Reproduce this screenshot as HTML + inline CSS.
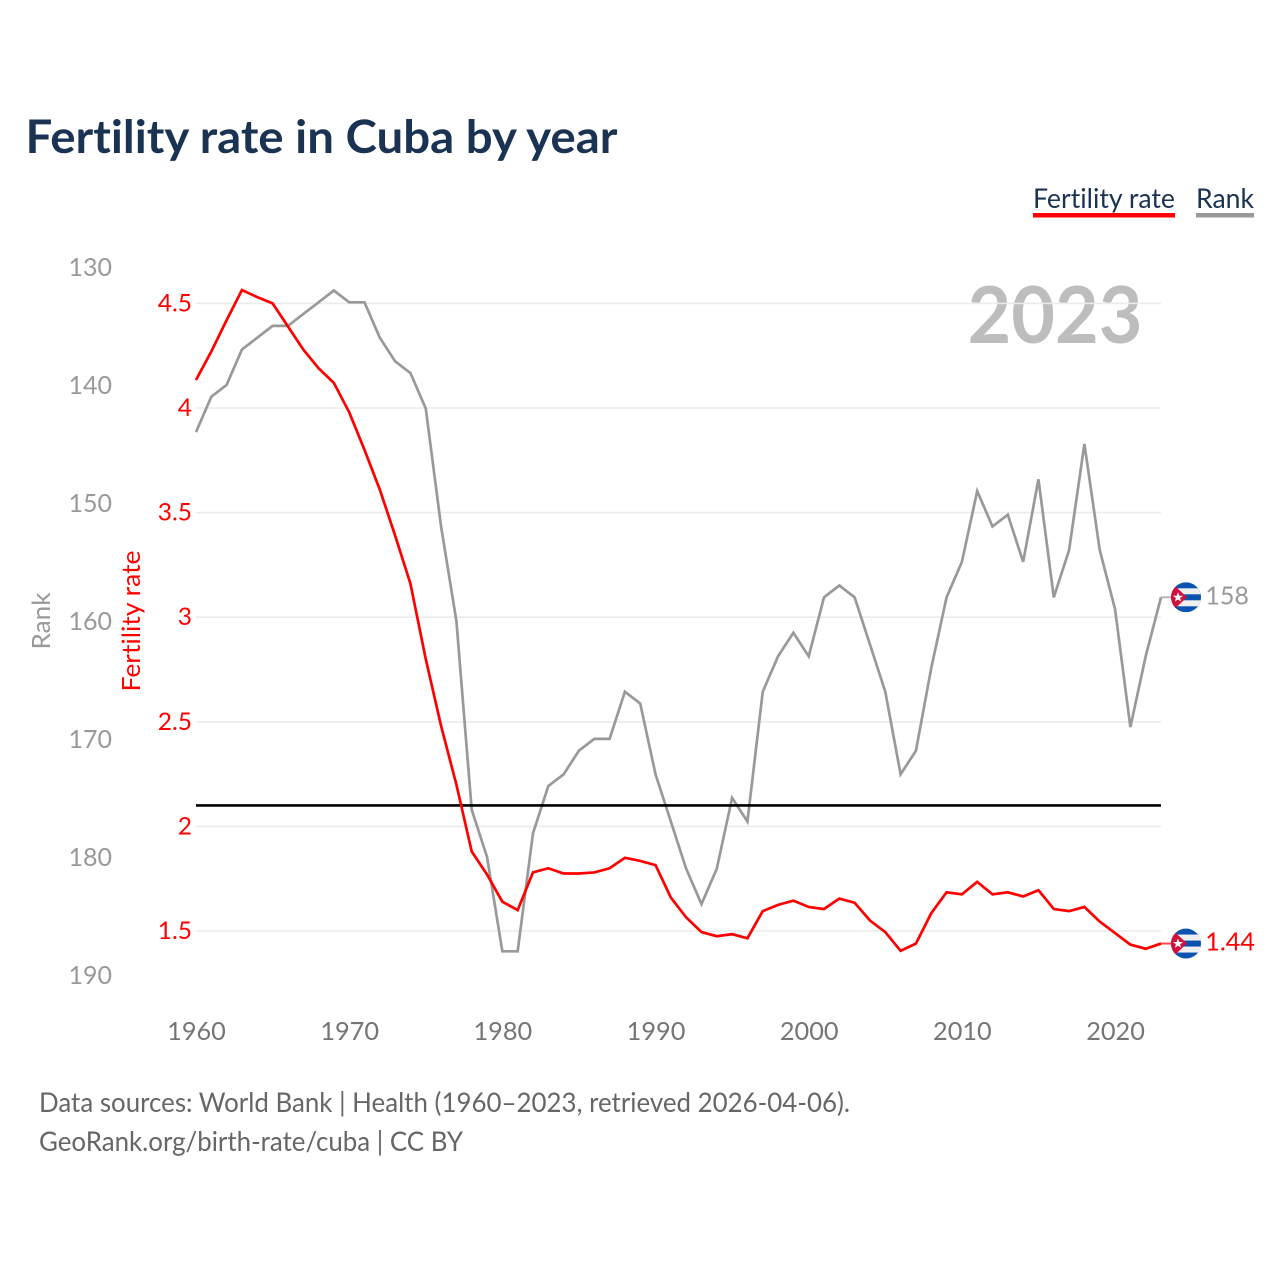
<!DOCTYPE html>
<html lang="en">
<head>
<meta charset="utf-8">
<title>Fertility rate in Cuba by year</title>
<style>
html,body{margin:0;padding:0;background:#fff;}
body{width:1280px;height:1280px;overflow:hidden;}
svg{display:block;}
text{font-family:"Lato","Carlito","Liberation Sans",sans-serif;font-variant-ligatures:none;font-feature-settings:"liga" 0,"clig" 0;}
</style>
</head>
<body>
<svg id="chart" width="1280" height="1280" viewBox="0 0 1280 1280" xmlns="http://www.w3.org/2000/svg">
  <defs>
    <clipPath id="flag-clip"><circle cx="0" cy="0" r="15"></circle></clipPath>
  </defs>
  <rect x="0" y="0" width="1280" height="1280" fill="#ffffff"></rect>
  <text x="25.5" y="153" font-size="46" font-weight="700" fill="#1a3353" textLength="592" lengthAdjust="spacingAndGlyphs">Fertility rate in Cuba by year</text>

  <text x="1033" y="208" font-size="27" fill="#1a3353" textLength="142" lengthAdjust="spacingAndGlyphs">Fertility rate</text>
  <rect x="1033" y="213" width="142" height="4.5" fill="#ff0000"></rect>
  <text x="1196" y="208" font-size="27" fill="#1a3353" textLength="58" lengthAdjust="spacingAndGlyphs">Rank</text>
  <rect x="1196" y="213" width="58" height="4.5" fill="#999999"></rect>

  <text x="1142.5" y="343" text-anchor="end" font-size="79" font-weight="700" fill="#bdbdbd" textLength="175" lengthAdjust="spacingAndGlyphs">2023</text>

  <g id="grid"></g>
  <g id="rank-axis"></g>
  <g id="fert-axis"></g>
  <g id="x-axis"></g>

  <text transform="translate(50,621) rotate(-90)" text-anchor="middle" font-size="25" fill="#999999" textLength="57" lengthAdjust="spacingAndGlyphs">Rank</text>
  <text transform="translate(140,621) rotate(-90)" text-anchor="middle" font-size="25" fill="#ff0000" textLength="141" lengthAdjust="spacingAndGlyphs">Fertility rate</text>

  <g id="series"></g>

  <text x="39" y="1112" font-size="27" fill="#666666" textLength="811" lengthAdjust="spacingAndGlyphs">Data sources: World Bank | Health (1960–2023, retrieved 2026-04-06).</text>
  <text x="39" y="1151" font-size="27" fill="#666666" textLength="424" lengthAdjust="spacingAndGlyphs">GeoRank.org/birth-rate/cuba | CC BY</text>
</svg>
<script>
const years = [1960,1961,1962,1963,1964,1965,1966,1967,1968,1969,1970,1971,1972,1973,1974,1975,1976,1977,1978,1979,1980,1981,1982,1983,1984,1985,1986,1987,1988,1989,1990,1991,1992,1993,1994,1995,1996,1997,1998,1999,2000,2001,2002,2003,2004,2005,2006,2007,2008,2009,2010,2011,2012,2013,2014,2015,2016,2017,2018,2019,2020,2021,2022,2023];
const fertilityValues = [4.134,4.27,4.42,4.564,4.53,4.50,4.39,4.28,4.19,4.12,3.98,3.80,3.61,3.39,3.16,2.80,2.48,2.20,1.88,1.77,1.64,1.60,1.78,1.80,1.775,1.775,1.78,1.80,1.85,1.835,1.815,1.66,1.565,1.495,1.475,1.485,1.465,1.595,1.625,1.645,1.615,1.605,1.655,1.635,1.55,1.495,1.405,1.44,1.585,1.685,1.675,1.735,1.675,1.685,1.665,1.695,1.605,1.595,1.615,1.545,1.49,1.435,1.415,1.44];
const rankValues = [144,141,140,137,136,135,135,134,133,132,133,133,136,138,139,142,152,160,176,180,188,188,178,174,173,171,170,170,166,167,173,177,181,184,181,175,177,166,163,161,163,158,157,158,162,166,173,171,164,158,155,149,152,151,155,148,158,154,145,154,159,169,163,158];
const fertilityTicks = [1.5,2,2.5,3,3.5,4,4.5];
const rankTicks = [130,140,150,160,170,180,190];
const yearTicks = [1960,1970,1980,1990,2000,2010,2020];
const replacementRate = [2.1];

const NS = 'http://www.w3.org/2000/svg';
function xScale(year){ return 196 + (year - 1960) * (1161 - 196) / (2023 - 1960); }
function fertScale(v){ return 931 - (v - 1.5) * 209.2; }
function rankScale(r){ return 620.9 + (r - 160) * 11.8; }
function make(tag, attrs, parent){
  const el = document.createElementNS(NS, tag);
  for (const k in attrs) el.setAttribute(k, attrs[k]);
  parent.appendChild(el);
  return el;
}
const grid = document.getElementById('grid');
const rankAxis = document.getElementById('rank-axis');
const fertAxis = document.getElementById('fert-axis');
const xAxis = document.getElementById('x-axis');
const seriesLayer = document.getElementById('series');

fertilityTicks.forEach(function(t){
  const y = fertScale(t);
  const line = make('line', {x1:196, x2:1161, y1:y, y2:y, stroke:'#ebebeb', 'stroke-width':1.6}, grid);
  
  
  const label = make('text', {x:192, y:y + 8, 'text-anchor':'end', 'font-size':24.5, fill:'#ff0000'}, fertAxis);
  
  
  label.textContent = String(t);
});
rankTicks.forEach(function(t){
  const label = make('text', {x:112, y:rankScale(t) + 9, 'text-anchor':'end', 'font-size':25, fill:'#999999'}, rankAxis);
  
  
  label.textContent = String(t);
});
yearTicks.forEach(function(t){
  const label = make('text', {x:xScale(t) + 0.5, y:1040, 'text-anchor':'middle', 'font-size':25.3, fill:'#757575'}, xAxis);
  
  
  label.textContent = String(t);
});

function linePoints(values, yFn){
  return values.map(function(v, i){ return xScale(years[i]).toFixed(2) + ',' + yFn(v).toFixed(2); }).join(' ');
}
const rankLine = make('polyline', {points:linePoints(rankValues, rankScale), fill:'none', stroke:'#999999', 'stroke-width':2.7, 'stroke-linejoin':'miter'}, seriesLayer);



const refLine = make('line', {x1:196, x2:1161, y1:fertScale(replacementRate[0]), y2:fertScale(replacementRate[0]), stroke:'#000000', 'stroke-width':2.6}, seriesLayer);



const fertLine = make('polyline', {points:linePoints(fertilityValues, fertScale), fill:'none', stroke:'#ff0000', 'stroke-width':2.7, 'stroke-linejoin':'miter'}, seriesLayer);



function endMarker(y, color, text, prefix){
  const stub = make('line', {x1:1161, x2:1172, y1:y, y2:y, stroke:color, 'stroke-width':2, opacity:0.7}, seriesLayer);
  
  

  const g = make('g', {transform:'translate(1186,' + y + ')', 'clip-path':'url(#flag-clip)'}, seriesLayer);
  
  
  make('rect', {x:-15, y:-15, width:30, height:30, fill:'#0a52b0'}, g);
  make('rect', {x:-15, y:-9, width:30, height:6, fill:'#efefef'}, g);
  make('rect', {x:-15, y:3, width:30, height:6, fill:'#efefef'}, g);
  make('polygon', {points:'-15,-15 1,0 -15,15', fill:'#d2103c'}, g);
  make('polygon', {points:'-8,-5 -6.6,-1.6 -3,-1.6 -5.9,0.7 -4.9,4.2 -8,2.2 -11.1,4.2 -10.1,0.7 -13,-1.6 -9.4,-1.6', fill:'#ffffff'}, g);

  const label = make('text', {x:1205.3, y:y + 7, 'font-size':25.1, fill:color}, seriesLayer);
  
  
  label.textContent = text;
}
const lastRank = rankValues[rankValues.length - 1];
const lastFert = fertilityValues[fertilityValues.length - 1];
endMarker(rankScale(lastRank), '#999999', String(lastRank), 'rank');
endMarker(fertScale(lastFert), '#ff0000', String(lastFert), 'fertility');
</script>
</body>
</html>
